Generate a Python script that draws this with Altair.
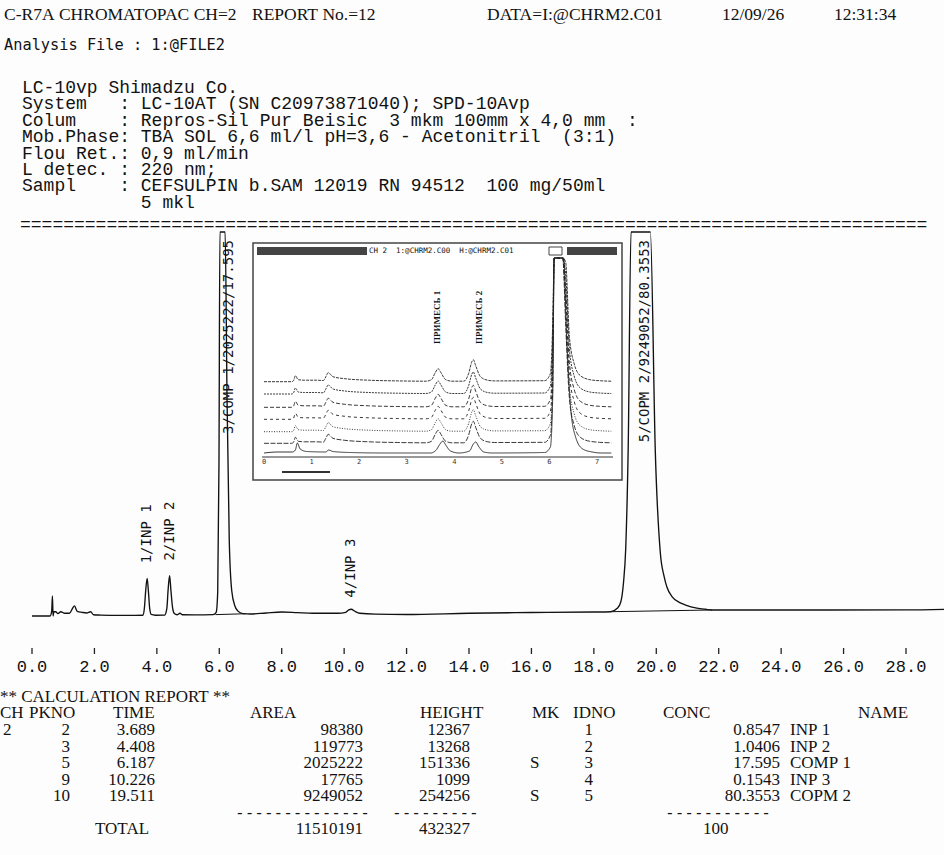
import altair as alt
import pandas as pd

# ---------------- calculation report, channel 2 ----------------
pk_no = [2, 3, 5, 9, 10]
ret_time = [3.689, 4.408, 6.187, 10.226, 19.511]
area = [98380, 119773, 2025222, 17765, 9249052]
height = [12367, 13268, 151336, 1099, 254256]
mk = ["", "", "S", "", "S"]
id_no = [1, 2, 3, 4, 5]
conc = ["0.8547", "1.0406", "17.595", "0.1543", "80.3553"]
peak_name = ["INP 1", "INP 2", "COMP 1", "INP 3", "COPM 2"]
total_area = 11510191
total_height = 432327
total_conc = 100

# ---------------- recorded detector trace (min, uV) ----------------
trace_time = [0.0, 0.58, 0.63, 0.655, 0.675, 0.70, 0.76, 0.83, 0.92, 1.05,
              1.20, 1.30, 1.36, 1.45, 1.60, 1.75, 1.88, 1.97, 2.2, 2.8,
              3.3, 3.55, 3.60, 3.64, 3.689, 3.73, 3.77, 3.82, 3.95, 4.25,
              4.32, 4.36, 4.408, 4.45, 4.50, 4.56, 4.65, 4.74, 4.82, 5.2,
              5.80, 5.90, 5.95, 5.99, 6.02, 6.187, 6.25, 6.32, 6.40, 6.50,
              6.60, 6.75, 7.0, 7.5, 8.0, 8.5, 9.0, 9.8, 10.05, 10.15,
              10.226, 10.35, 10.5, 11.0, 12.0, 14.0, 16.0, 18.0, 18.54, 18.75,
              18.86, 18.95, 19.02, 19.10, 19.19, 19.511, 19.81, 19.97, 20.13, 20.25,
              20.34, 20.51, 20.77, 20.94, 21.30, 21.58, 21.79, 24.0, 28.0, 29.3]
trace_signal = [0, 0, 1500, 6560, -2390, 1400, 1400, 800, 1400, 900,
                900, 2500, 3300, 1500, 1200, 1000, 1400, 400, 300, 200,
                200, 250, 2500, 8000, 12367, 8000, 2500, 500, 250, 300,
                2500, 8500, 13268, 8500, 3000, 800, 400, 900, 400, 350,
                450, 1200, 8000, 50000, 126000, 151336, 70000, 24600, 8200, 3300,
                1600, 800, 650, 1000, 1300, 1100, 900, 900, 1200, 2000,
                2200, 1500, 900, 600, 500, 900, 1150, 1300, 1410, 2520,
                4500, 11000, 22000, 55000, 126000, 254256, 126000, 53440, 20660, 13000,
                9500, 6300, 4300, 3600, 2600, 2200, 1970, 1970, 2000, 2200]

# integration baselines drawn under the S-marked peaks
base_t0 = [5.88, 18.54]
base_s0 = [450, 1410]
base_t1 = [6.85, 21.79]
base_s1 = [750, 1970]

axis_ticks = [0, 2, 4, 6, 8, 10, 12, 14, 16, 18, 20, 22, 24, 26, 28]

# ---------------- overlay of seven runs (min, relative units) ----------------
inset_time = [0.0, 0.58, 0.62, 0.66, 0.72, 0.85, 1.1, 1.25, 1.30, 1.35,
              1.45, 1.7, 2.2, 2.8, 3.4, 3.52, 3.60, 3.66, 3.72, 3.82,
              3.95, 4.2, 4.30, 4.37, 4.40, 4.45, 4.55, 4.7, 4.85, 5.9,
              6.02, 6.07, 6.10, 6.13, 6.28, 6.34, 6.42, 6.52, 6.65, 6.85,
              7.05, 7.3]
inset_upper = [0, 0, 1, 6, 2, 1.5, 1.5, 1.2, 5, 9,
               5, 3, 1.5, 0.8, 0.5, 2, 9, 13, 9, 2,
               0.5, 0.5, 8, 20, 22, 16, 5, 1.5, 0.8, 1,
               8, 60, 200, 260, 260, 120, 45, 18, 6, 2,
               1, 0.5]
inset_upper_offsets = [11.7, 23.3, 35.7, 47.7, 61.0, 73.3]
inset_bottom_time = [0.0, 0.3, 0.6, 0.66, 0.70, 0.76, 0.9, 1.3, 1.36, 1.45,
                     1.8, 2.6, 3.5, 3.62, 3.70, 3.76, 3.82, 3.92, 4.1, 4.32,
                     4.40, 4.45, 4.52, 4.62, 4.8, 5.9, 6.02, 6.07, 6.10, 6.13,
                     6.30, 6.36, 6.45, 6.55, 6.7, 6.9, 7.1, 7.3]
inset_bottom = [2, 3, 3, 5, 12, 6, 3.5, 3, 5, 3.5,
                2.5, 2, 2, 5, 11, 14, 10, 4, 2, 4,
                11, 13, 8, 3, 2, 2.5, 8, 60, 200, 260,
                260, 120, 45, 18, 6, 3, 2, 2]
inset_ticks = [0, 1, 2, 3, 4, 5, 6, 7]
inset_label_text = ["ПРИМЕСЬ 1", "ПРИМЕСЬ 2"]
inset_label_time = [3.64, 4.53]

# ---------------- printed header ----------------
header_text = ["C-R7A CHROMATOPAC CH=2", "REPORT No.=12", "DATA=I:@CHRM2.C01",
               "12/09/26", "12:31:34"]
analysis_line = "Analysis File : 1:@FILE2"
method_lines = [
    "LC-10vp Shimadzu Co.",
    "System   : LC-10AT (SN C20973871040); SPD-10Avp",
    "Colum    : Repros-Sil Pur Beisic  3 mkm 100mm x 4,0 mm  :",
    "Mob.Phase: TBA SOL 6,6 ml/l pH=3,6 - Acetonitril  (3:1)",
    "Flou Ret.: 0,9 ml/min",
    "L detec. : 220 nm;",
    "Sampl    : CEFSULPIN b.SAM 12019 RN 94512  100 mg/50ml",
    "           5 mkl",
]
table_title = "** CALCULATION REPORT **"
table_head = ["CH", "PKNO", "TIME", "AREA", "HEIGHT", "MK", "IDNO", "CONC", "NAME"]

INK = "#121212"
MONO = "DejaVu Sans Mono"
COURIER = "Liberation Mono"
SERIF = "Liberation Serif"
NBSP = "\u00a0"

main_x = alt.Scale(domain=[0, 28], range=[32, 906], nice=False, zero=False)
main_y = alt.Scale(domain=[0, 126000], range=[616, 232], nice=False, zero=False, clamp=True)
inset_x = alt.Scale(domain=[0, 7], range=[264, 597], nice=False, zero=False)
inset_y = alt.Scale(domain=[0, 197], range=[455, 258], nice=False, zero=False, clamp=True)


def px_text(df, **kw):
    """Text placed directly in page pixels; every space is kept."""
    df = df.copy()
    df["text"] = [str(s).replace(" ", NBSP) for s in df["text"]]
    return alt.Chart(df).mark_text(color=INK, **kw).encode(
        x=alt.X("x:Q", scale=None, axis=None),
        y=alt.Y("y:Q", scale=None, axis=None),
        text="text:N",
    )


def px_box(x0, y0, x1, y1, **kw):
    return alt.Chart(pd.DataFrame({"k": [0]})).mark_rect(**kw).encode(
        x=alt.value(x0), x2=alt.value(x1), y=alt.value(y0), y2=alt.value(y1))


def px_rule(x0, y0, x1, y1, **kw):
    return alt.Chart(pd.DataFrame({"k": [0]})).mark_rule(**kw).encode(
        x=alt.value(x0), x2=alt.value(x1), y=alt.value(y0), y2=alt.value(y1))


layers = []

# header lines
head_df = pd.DataFrame({"text": header_text,
                        "x": [4, 252, 487, 722, 834],
                        "y": [15, 15, 15, 15, 15]})
layers.append(px_text(head_df, font=SERIF, fontSize=17.5, align="left", baseline="middle"))
layers.append(px_text(pd.DataFrame({"text": [analysis_line], "x": [4], "y": [45]}),
                      font=MONO, fontSize=15.3, align="left", baseline="middle"))

# method block (the last line is indented with leading spaces)
meth_x = [22 + 10.8 * (len(s) - len(s.lstrip(" "))) for s in method_lines]
meth_df = pd.DataFrame({"text": [s.lstrip(" ") for s in method_lines],
                        "x": meth_x,
                        "y": [88 + 16.4 * i for i in range(len(method_lines))]})
layers.append(px_text(meth_df, font=COURIER, fontSize=18, align="left", baseline="middle"))

# separator
layers.append(px_text(pd.DataFrame({"text": ["=" * 84], "x": [20], "y": [225]}),
                      font=COURIER, fontSize=18, align="left", baseline="middle"))

# ---------------- main chromatogram ----------------
trace_df = pd.DataFrame({"t": trace_time, "s": trace_signal})
layers.append(alt.Chart(trace_df).mark_line(color="#111", strokeWidth=1.35, interpolate="monotone").encode(
    x=alt.X("t:Q", scale=main_x, axis=None),
    y=alt.Y("s:Q", scale=main_y, axis=None)))

base_df = pd.DataFrame({"t0": base_t0, "s0": base_s0, "t1": base_t1, "s1": base_s1})
layers.append(alt.Chart(base_df).mark_rule(color="#111", strokeWidth=1).encode(
    x=alt.X("t0:Q", scale=main_x, axis=None), x2="t1:Q",
    y=alt.Y("s0:Q", scale=main_y, axis=None), y2="s1:Q"))

peaks = pd.DataFrame({"t": ret_time, "h": height, "mk": mk})
peaks["label"] = [f"{i}/{n}" if m == "" else f"{i}/{n}/{a}/{c}"
                  for i, n, m, a, c in zip(id_no, peak_name, mk, area, conc)]
small = peaks[peaks["mk"] == ""]
big = peaks[peaks["mk"] == "S"]
layers.append(alt.Chart(small).mark_text(angle=270, align="left", baseline="middle", dx=15,
                                         font=MONO, fontSize=14, color=INK).encode(
    x=alt.X("t:Q", scale=main_x, axis=None),
    y=alt.Y("h:Q", scale=main_y, axis=None),
    text="label:N"))
layers.append(alt.Chart(big).mark_text(angle=270, align="right", baseline="middle", dy=4,
                                       font=MONO, fontSize=14, color=INK).encode(
    x=alt.X("t:Q", scale=main_x, axis=None),
    y=alt.value(240),
    text="label:N"))

tick_df = pd.DataFrame({"t": axis_ticks})
layers.append(alt.Chart(tick_df).mark_rule(color="#222", strokeWidth=1.3).encode(
    x=alt.X("t:Q", scale=main_x, axis=None), y=alt.value(648), y2=alt.value(654)))
layers.append(alt.Chart(tick_df).mark_text(font=COURIER, fontSize=17, color=INK,
                                           baseline="middle").encode(
    x=alt.X("t:Q", scale=main_x, axis=None), y=alt.value(667),
    text=alt.Text("t:Q", format=".1f")))

# ---------------- overlay of repeated runs ----------------
layers.append(px_box(253, 243, 622, 480, fill="white", stroke="#444", strokeWidth=1.5))
layers.append(px_box(257, 247, 367, 255, fill="#444"))
layers.append(px_box(549, 247, 562, 255, fill="white", stroke="#444", strokeWidth=1))
layers.append(px_box(567, 247, 617, 255, fill="#444"))
layers.append(px_text(pd.DataFrame({"text": ["CH 2  1:@CHRM2.C00  H:@CHRM2.C01"],
                                    "x": [369], "y": [251]}),
                      font=MONO, fontSize=7.5, align="left", baseline="middle"))

runs = []
for k, off in enumerate(inset_upper_offsets):
    runs.append(pd.DataFrame({"t": inset_time, "v": [v + off for v in inset_upper],
                              "run": f"run {k + 2}"}))
runs.append(pd.DataFrame({"t": inset_bottom_time, "v": inset_bottom, "run": "run 1"}))
runs_df = pd.concat(runs, ignore_index=True)
run_names = ["run 1", "run 2", "run 3", "run 4", "run 5", "run 6", "run 7"]
dashes = [[1, 0], [5, 1.5], [1, 1.5], [3, 3], [4, 2], [2, 1], [3, 1]]
layers.append(alt.Chart(runs_df).mark_line(color="#222", strokeWidth=0.9, interpolate="monotone").encode(
    x=alt.X("t:Q", scale=inset_x, axis=None),
    y=alt.Y("v:Q", scale=inset_y, axis=None),
    detail="run:N",
    strokeDash=alt.StrokeDash("run:N", scale=alt.Scale(domain=run_names, range=dashes), legend=None)))

layers.append(px_rule(262, 457, 613, 457, color="#333", strokeWidth=1))
layers.append(px_rule(282, 472, 330, 472, color="#333", strokeWidth=2))
layers.append(alt.Chart(pd.DataFrame({"t": inset_ticks})).mark_text(
    font=MONO, fontSize=7, color="#333", baseline="middle").encode(
    x=alt.X("t:Q", scale=inset_x, axis=None), y=alt.value(462), text="t:N"))
layers.append(alt.Chart(pd.DataFrame({"t": inset_label_time, "text": inset_label_text})).mark_text(
    angle=270, align="left", baseline="middle", font=SERIF, fontWeight="bold", fontSize=9,
    color="#111").encode(
    x=alt.X("t:Q", scale=inset_x, axis=None), y=alt.value(344), text="text:N"))

# ---------------- calculation report table ----------------
TABLE_FS = 17
layers.append(px_text(pd.DataFrame({"text": [table_title], "x": [0], "y": [697]}),
                      font=SERIF, fontSize=TABLE_FS, align="left", baseline="middle"))
layers.append(px_text(pd.DataFrame({"text": table_head,
                                    "x": [0, 29, 113, 250, 420, 532, 573, 663, 858],
                                    "y": [713] * 9}),
                      font=SERIF, fontSize=TABLE_FS, align="left", baseline="middle"))

row_y = [730 + 16.5 * i for i in range(len(pk_no))]
right_cols = [([str(v) for v in pk_no], 70),
              ([f"{v:.3f}" for v in ret_time], 155),
              ([str(v) for v in area], 363),
              ([str(v) for v in height], 470),
              ([str(v) for v in id_no], 593),
              (conc, 780)]
left_cols = [(["2", "", "", "", ""], 3), (mk, 530), (peak_name, 790)]
rt = pd.concat([pd.DataFrame({"text": vals, "x": x, "y": row_y}) for vals, x in right_cols],
               ignore_index=True)
lt = pd.concat([pd.DataFrame({"text": vals, "x": x, "y": row_y}) for vals, x in left_cols],
               ignore_index=True)
lt = lt[lt["text"] != ""]
rt = pd.concat([rt, pd.DataFrame({"text": [str(total_area), str(total_height)],
                                  "x": [363, 470], "y": [829, 829]})], ignore_index=True)
lt = pd.concat([lt, pd.DataFrame({"text": ["TOTAL", str(total_conc)],
                                  "x": [95, 703], "y": [829, 829]})], ignore_index=True)
layers.append(px_text(rt, font=SERIF, fontSize=TABLE_FS, align="right", baseline="middle"))
layers.append(px_text(lt, font=SERIF, fontSize=TABLE_FS, align="left", baseline="middle"))
layers.append(px_text(pd.DataFrame({"text": ["-" * 14, "-" * 9, "-" * 11],
                                    "x": [235, 392, 665], "y": [813] * 3}),
                      font=MONO, fontSize=16, align="left", baseline="middle"))

chart = alt.layer(*layers).resolve_scale(x="independent", y="independent").properties(
    width=944, height=855, autosize=alt.AutoSizeParams(type="none"), padding=0,
    background="#fdfdfd",
).configure_view(stroke=None)

chart.save("out.html", embed_options={"renderer": "svg", "actions": False})
